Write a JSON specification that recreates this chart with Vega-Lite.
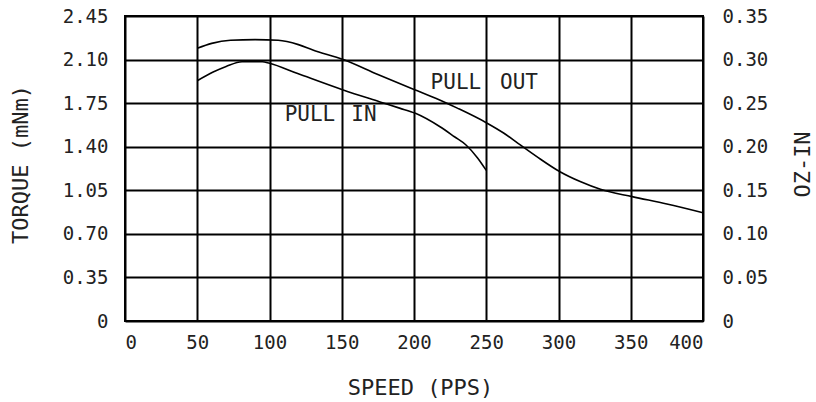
{
  "$schema": "https://vega.github.io/schema/vega-lite/v6.json",
  "autosize": {"type": "none"},
  "padding": {"left": 125, "top": 16, "right": 113, "bottom": 81},
  "width": 578,
  "height": 305,
  "background": "white",
  "config": {
    "view": {"stroke": "black", "strokeWidth": 2},
    "axis": {
      "labelFont": "DejaVu Sans Mono",
      "labelFontSize": 19,
      "labelColor": "#222",
      "titleFont": "DejaVu Sans Mono",
      "titleFontSize": 22,
      "titleFontWeight": "normal",
      "titleColor": "#222",
      "domain": false,
      "ticks": false,
      "gridColor": "black",
      "gridWidth": 2,
      "gridOpacity": 1
    }
  },
  "layer": [
    {
      "layer": [
        {
          "data": {
            "values": [
              {"speed": 50, "torque": 2.19, "curve": "PULL OUT"},
              {"speed": 60, "torque": 2.23, "curve": "PULL OUT"},
              {"speed": 73, "torque": 2.255, "curve": "PULL OUT"},
              {"speed": 90, "torque": 2.26, "curve": "PULL OUT"},
              {"speed": 106, "torque": 2.255, "curve": "PULL OUT"},
              {"speed": 120, "torque": 2.22, "curve": "PULL OUT"},
              {"speed": 130, "torque": 2.177, "curve": "PULL OUT"},
              {"speed": 151, "torque": 2.1, "curve": "PULL OUT"},
              {"speed": 175, "torque": 1.98, "curve": "PULL OUT"},
              {"speed": 200, "torque": 1.86, "curve": "PULL OUT"},
              {"speed": 215, "torque": 1.79, "curve": "PULL OUT"},
              {"speed": 230, "torque": 1.71, "curve": "PULL OUT"},
              {"speed": 250, "torque": 1.593, "curve": "PULL OUT"},
              {"speed": 262, "torque": 1.51, "curve": "PULL OUT"},
              {"speed": 272, "torque": 1.427, "curve": "PULL OUT"},
              {"speed": 285, "torque": 1.32, "curve": "PULL OUT"},
              {"speed": 301, "torque": 1.199, "curve": "PULL OUT"},
              {"speed": 315, "torque": 1.12, "curve": "PULL OUT"},
              {"speed": 329, "torque": 1.058, "curve": "PULL OUT"},
              {"speed": 351, "torque": 0.999, "curve": "PULL OUT"},
              {"speed": 375, "torque": 0.94, "curve": "PULL OUT"},
              {"speed": 400, "torque": 0.87, "curve": "PULL OUT"},
              {"speed": 50, "torque": 1.93, "curve": "PULL IN"},
              {"speed": 61, "torque": 2.0, "curve": "PULL IN"},
              {"speed": 70, "torque": 2.045, "curve": "PULL IN"},
              {"speed": 81, "torque": 2.083, "curve": "PULL IN"},
              {"speed": 95, "torque": 2.083, "curve": "PULL IN"},
              {"speed": 100, "torque": 2.07, "curve": "PULL IN"},
              {"speed": 119, "torque": 1.99, "curve": "PULL IN"},
              {"speed": 151, "torque": 1.856, "curve": "PULL IN"},
              {"speed": 176, "torque": 1.762, "curve": "PULL IN"},
              {"speed": 190, "torque": 1.71, "curve": "PULL IN"},
              {"speed": 201, "torque": 1.668, "curve": "PULL IN"},
              {"speed": 218, "torque": 1.56, "curve": "PULL IN"},
              {"speed": 228, "torque": 1.48, "curve": "PULL IN"},
              {"speed": 236, "torque": 1.414, "curve": "PULL IN"},
              {"speed": 244, "torque": 1.31, "curve": "PULL IN"},
              {"speed": 250, "torque": 1.21, "curve": "PULL IN"}
            ]
          },
          "mark": {"type": "line", "color": "black", "strokeWidth": 1.6, "interpolate": "monotone"},
          "encoding": {
            "x": {
              "field": "speed", "type": "quantitative",
              "scale": {"domain": [0, 400], "nice": false},
              "axis": {
                "values": [0, 50, 100, 150, 200, 250, 300, 350, 400],
                "grid": true,
                "labelPadding": 12,
                "title": "SPEED (PPS)",
                "titleX": 295,
                "titleY": 66,
                "titleBaseline": "middle"
              }
            },
            "y": {
              "field": "torque", "type": "quantitative",
              "scale": {"domain": [0, 2.45], "nice": false},
              "axis": {
                "values": [0, 0.35, 0.7, 1.05, 1.4, 1.75, 2.1, 2.45],
                "grid": true,
                "labelPadding": 17,
                "labelExpr": "datum.value == 0 ? '0' : format(datum.value, '.2f')",
                "title": "TORQUE (mNm)",
                "titleAngle": 270,
                "titleX": -105,
                "titleY": 148,
                "titleAlign": "center",
                "titleBaseline": "middle"
              }
            },
            "detail": {"field": "curve", "type": "nominal"}
          }
        },
        {
          "data": {
            "values": [
              {"speed": 229, "torque": 1.912, "label": "PULL"},
              {"speed": 272.7, "torque": 1.912, "label": "OUT"},
              {"speed": 128, "torque": 1.655, "label": "PULL"},
              {"speed": 165.4, "torque": 1.655, "label": "IN"}
            ]
          },
          "mark": {"type": "text", "font": "DejaVu Sans Mono", "fontSize": 21, "color": "#222", "baseline": "middle", "align": "center"},
          "encoding": {
            "x": {"field": "speed", "type": "quantitative"},
            "y": {"field": "torque", "type": "quantitative"},
            "text": {"field": "label"}
          }
        }
      ]
    },
    {
      "data": {"values": [{"oz": 0}, {"oz": 0.35}]},
      "mark": {"type": "point", "opacity": 0},
      "encoding": {
        "y": {
          "field": "oz", "type": "quantitative",
          "scale": {"domain": [0, 0.35], "nice": false},
          "axis": {
            "orient": "right",
            "values": [0, 0.05, 0.1, 0.15, 0.2, 0.25, 0.3, 0.35],
            "grid": false,
            "labelPadding": 19,
            "labelExpr": "datum.value == 0 ? '0' : format(datum.value, '.2f')",
            "title": "OZ-IN",
            "titleAngle": 270,
            "titleX": 99,
            "titleY": 148,
            "titleAlign": "center",
            "titleBaseline": "middle"
          }
        }
      }
    }
  ],
  "resolve": {"scale": {"y": "independent"}}
}
